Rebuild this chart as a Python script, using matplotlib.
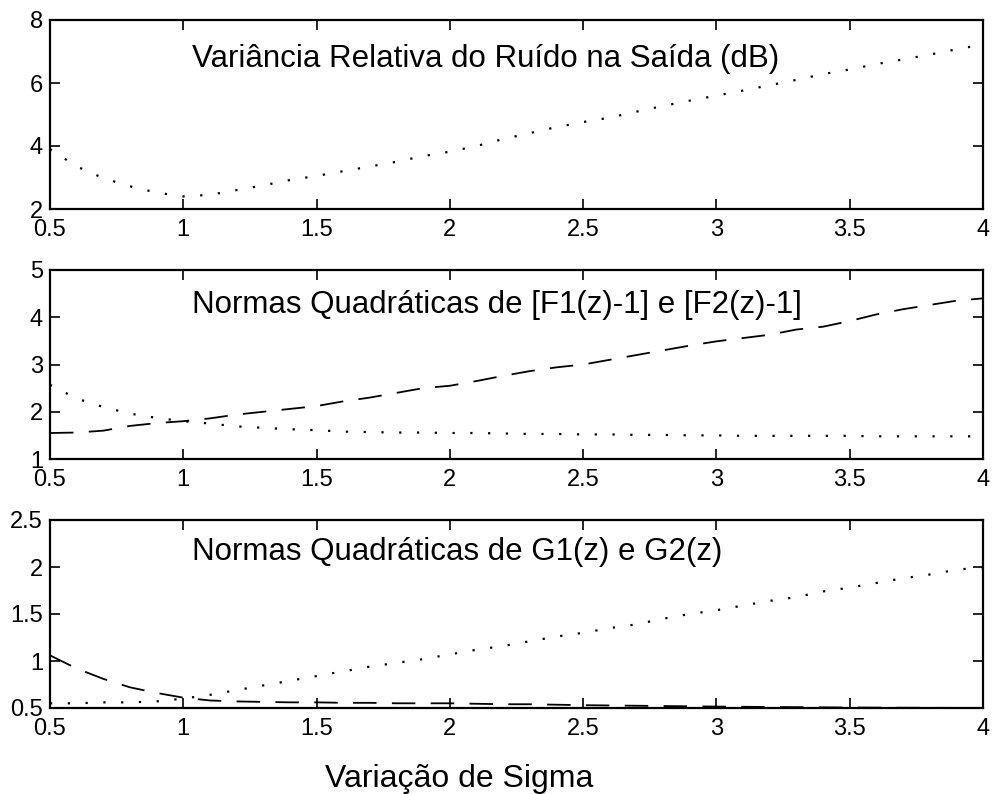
import matplotlib
matplotlib.use("Agg")
import matplotlib.pyplot as plt

plt.rcParams['font.family'] = ['Liberation Sans', 'DejaVu Sans']

sigma = [0.5, 0.6, 0.7, 0.8, 0.9, 1.0, 1.1, 1.2, 1.3, 1.4, 1.5, 1.6, 1.7, 1.8,
         1.9, 2.0, 2.1, 2.2, 2.3, 2.4, 2.5, 2.6, 2.7, 2.8, 2.9, 3.0, 3.1, 3.2,
         3.3, 3.4, 3.5, 3.6, 3.7, 3.8, 3.9, 4.0]

variancia_db = [3.90, 3.35, 2.98, 2.72, 2.52, 2.40, 2.45, 2.60, 2.75, 2.92,
                3.05, 3.20, 3.35, 3.50, 3.68, 3.82, 4.00, 4.22, 4.41, 4.60,
                4.76, 4.90, 5.09, 5.27, 5.44, 5.60, 5.76, 5.93, 6.10, 6.28,
                6.43, 6.60, 6.75, 6.90, 7.07, 7.22]

norma_f1 = [2.57, 2.28, 2.10, 1.96, 1.87, 1.80, 1.75, 1.69, 1.66, 1.63,
            1.61, 1.58, 1.57, 1.56, 1.56, 1.55, 1.55, 1.54, 1.53, 1.53,
            1.52, 1.52, 1.51, 1.51, 1.50, 1.50, 1.49, 1.49, 1.49, 1.49,
            1.49, 1.48, 1.48, 1.48, 1.48, 1.48]

norma_f2 = [1.55, 1.56, 1.60, 1.70, 1.76, 1.80, 1.86, 1.94, 2.00, 2.06,
            2.12, 2.22, 2.30, 2.40, 2.50, 2.55, 2.65, 2.76, 2.86, 2.94,
            3.00, 3.10, 3.20, 3.30, 3.40, 3.49, 3.56, 3.63, 3.74, 3.80,
            3.92, 4.06, 4.17, 4.26, 4.35, 4.40]

norma_g1 = [0.55, 0.55, 0.56, 0.56, 0.57, 0.60, 0.64, 0.69, 0.74, 0.79,
            0.84, 0.89, 0.94, 0.98, 1.02, 1.07, 1.12, 1.16, 1.21, 1.26,
            1.30, 1.35, 1.39, 1.45, 1.50, 1.54, 1.59, 1.64, 1.68, 1.74,
            1.78, 1.83, 1.88, 1.92, 1.97, 2.00]

norma_g2 = [1.06, 0.92, 0.81, 0.72, 0.66, 0.61, 0.58, 0.57, 0.565, 0.56,
            0.56, 0.555, 0.555, 0.55, 0.55, 0.55, 0.545, 0.54, 0.54, 0.535,
            0.53, 0.527, 0.524, 0.521, 0.518, 0.515, 0.513, 0.511, 0.509, 0.507,
            0.505, 0.504, 0.503, 0.502, 0.501, 0.50]

xticks = [0.5, 1, 1.5, 2, 2.5, 3, 3.5, 4]
xticklabels = ['0.5', '1', '1.5', '2', '2.5', '3', '3.5', '4']

yticks_top = [2, 4, 6, 8]
yticklabels_top = ['2', '4', '6', '8']
yticks_mid = [1, 2, 3, 4, 5]
yticklabels_mid = ['1', '2', '3', '4', '5']
yticks_bot = [0.5, 1, 1.5, 2, 2.5]
yticklabels_bot = ['0.5', '1', '1.5', '2', '2.5']

titulo_top = 'Variância Relativa do Ruído na Saída (dB)'
titulo_mid = 'Normas Quadráticas de [F1(z)-1] e [F2(z)-1]'
titulo_bot = 'Normas Quadráticas de G1(z) e G2(z)'
xlabel_txt = 'Variação de Sigma'

W, H = 994, 794
fig = plt.figure(figsize=(W / 100, H / 100), dpi=100)

def box(top_px, bot_px, left_px=50, right_px=983):
    return [left_px / W, 1 - bot_px / H, (right_px - left_px) / W, (bot_px - top_px) / H]

ax1 = fig.add_axes(box(20, 209))
ax2 = fig.add_axes(box(270, 459))
ax3 = fig.add_axes(box(520, 708))

dotted = dict(color='black', linewidth=1.6, linestyle=(0, (1.0, 7.0)),
              dash_capstyle='butt')
dashed = dict(color='black', linewidth=1.3, linestyle=(0, (13.0, 8.5)),
              dash_capstyle='butt')

ax1.plot(sigma, variancia_db, **dotted)
ax2.plot(sigma, norma_f1, **dotted)
ax2.plot(sigma, norma_f2, **dashed)
ax3.plot(sigma, norma_g1, **dotted)
ax3.plot(sigma, norma_g2, **dashed)

specs = [
    (ax1, (2, 8), yticks_top, yticklabels_top, titulo_top, 0.751),
    (ax2, (1, 5), yticks_mid, yticklabels_mid, titulo_mid, 0.772),
    (ax3, (0.5, 2.5), yticks_bot, yticklabels_bot, titulo_bot, 0.787),
]
for ax, ylim, yt, ytl, title, ty in specs:
    ax.set_xlim(0.5, 4)
    ax.set_ylim(*ylim)
    ax.set_xticks(xticks)
    ax.set_xticklabels(xticklabels)
    ax.set_yticks(yt)
    ax.set_yticklabels(ytl)
    ax.tick_params(direction='in', length=7, width=1.2, top=True, right=True,
                   labelsize=17, colors='black')
    ax.tick_params(axis='x', pad=7)
    ax.tick_params(axis='y', pad=5)
    for sp in ax.spines.values():
        sp.set_linewidth(1.6)
    ax.text((192 - 50) / 933, ty, title, transform=ax.transAxes,
            ha='left', va='baseline', fontsize=22.5)

fig.text(325 / W, 1 - 787 / H, xlabel_txt, ha='left', va='baseline', fontsize=23)

fig.savefig('out.png', dpi=100)
